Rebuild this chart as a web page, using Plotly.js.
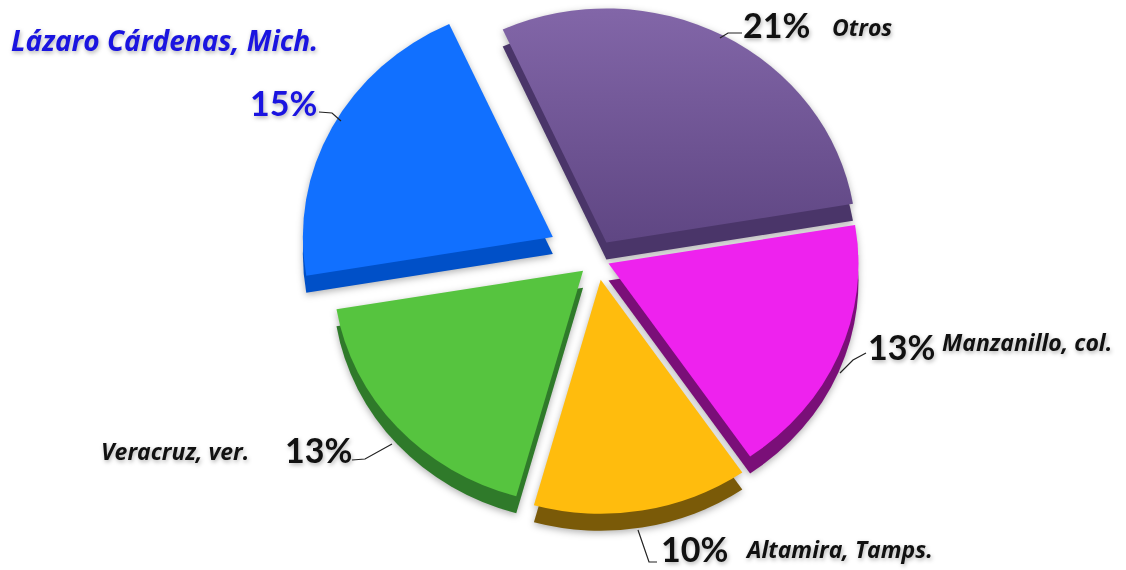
<!DOCTYPE html>
<html><head><meta charset="utf-8">
<script src="https://cdn.plot.ly/plotly-3.0.1.min.js"></script>
<style>html,body{margin:0;padding:0;background:#fff;overflow:hidden}#c{width:1126px;height:570px}
.annotation text{filter:drop-shadow(1px 2px 2px rgba(0,0,0,.3))}
.pielayer{filter:drop-shadow(0 2px 3px rgba(0,0,0,.3))}</style>
</head><body><div id="c"></div>
<script>
const categories = ["Otros","Manzanillo, col.","Altamira, Tamps.","Veracruz, ver.","Lázaro Cárdenas, Mich."];
const values = [21,13,10,13,15];
const pulls = [0.08,0.05,0.09,0.075,0.2];
const topColors = ["#775a9a","#ee22ee","#ffbc0d","#56c43f","#1170ff"];
const sideColors = ["#4a3569","#7a0f78","#7a5a08","#2f7a2a","#0050c8"];
const otrosGradient = ["#8266a8","#5f4683"];
const W = 1126, H = 570;
const cx = 597, cy = 259, baseR = 200, depth = 17;
const sx = 1.25, sy = 1.17;
const half = baseR * (1 + Math.max(...pulls));
const dx = [(cx-half)/W,(cx+half)/W];
const dyTop = [1-(cy+half)/H, 1-(cy-half)/H];
const dyBot = [1-(cy+half+depth/sy)/H, 1-(cy-half+depth/sy)/H];
const px = x => x/W, py = y => 1-y/H;
function pie(colors, dy){return {type:"pie",values:values,labels:categories,sort:false,direction:"clockwise",rotation:-24.5,
  pull:pulls,textinfo:"none",hoverinfo:"none",showlegend:false,domain:{x:dx,y:dy},
  marker:{colors:colors,line:{width:0}}};}
function label(text,x,y,size,color,family){return {text:text,xref:"paper",yref:"paper",x:px(x),y:py(y),xanchor:"left",yanchor:"middle",showarrow:false,
  font:{family:family,size:size,color:color}};}
const pct = (t,x,y,c)=>label("<b>"+t+"</b>",x,y,34,c||"#111","Lato");
const nm = (t,x,y,s,c)=>label("<b><i>"+t+"</i></b>",x,y,s||23,c||"#111","Open Sans");
function leader(d){return {type:"path",xref:"paper",yref:"paper",path:d.map((p,i)=>(i?"L":"M")+px(p[0])+" "+py(p[1])).join(" "),line:{color:"#222",width:1.2}};}
const layout = {width:W,height:H,margin:{l:0,r:0,t:0,b:0},paper_bgcolor:"#fff",
  annotations:[
    pct("21%",741,24), nm("Otros",830,27),
    pct("13%",866,346), nm("Manzanillo, col.",940,342),
    pct("10%",659,548), nm("Altamira, Tamps.",743,549),
    pct("13%",283,449), nm("Veracruz, ver.",99,451),
    pct("15%",248,102,"#1a14e0"), nm("Lázaro Cárdenas, Mich.",9,40,28,"#1a14e0")
  ],
  shapes:[
    leader([[742,33],[728,33],[720,38]]),
    leader([[866,353],[853,360],[840,373]]),
    leader([[657,562],[649,562],[638,530]]),
    leader([[352,460],[365,459],[392,444]]),
    leader([[319,112],[332,113],[341,121]])
  ]};
Plotly.newPlot("c",[pie(sideColors,dyBot),pie(topColors,dyTop)],layout,{displayModeBar:false,staticPlot:true}).then(()=>{
  document.querySelectorAll(".pielayer").forEach(g=>{
    g.setAttribute("transform",`translate(${cx},${cy}) scale(${sx},${sy}) translate(${-cx},${-cy})`);
  });
  const svg=document.querySelector(".main-svg"), ns="http://www.w3.org/2000/svg";
  const defs=document.createElementNS(ns,"defs"), lg=document.createElementNS(ns,"linearGradient");
  lg.id="otrosFill"; lg.setAttribute("x1","0");lg.setAttribute("y1","0");lg.setAttribute("x2","0");lg.setAttribute("y2","1");
  otrosGradient.forEach((c,i)=>{const s=document.createElementNS(ns,"stop");s.setAttribute("offset",i);s.setAttribute("stop-color",c);lg.appendChild(s);});
  defs.appendChild(lg);svg.appendChild(defs);
  const traces=document.querySelectorAll(".pielayer .trace");
  const top=traces[traces.length-1];
  const first=top.querySelector(".slice path");
  if(first) first.style.fill="url(#otrosFill)";
});
</script></body></html>
